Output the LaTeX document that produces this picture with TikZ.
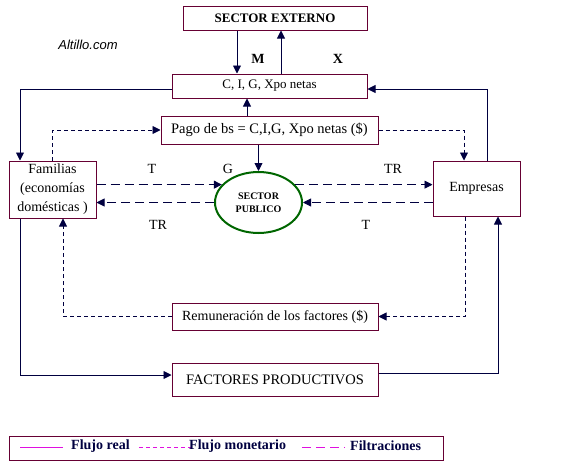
\documentclass[tikz,border=0pt]{standalone}
\usepackage{fontspec}
\setmainfont{Liberation Serif}
\newfontfamily\arialfont{Liberation Sans}
\usetikzlibrary{arrows.meta,shapes.geometric}
\definecolor{boxline}{HTML}{660033}
\definecolor{navy}{HTML}{000040}
\definecolor{spgreen}{HTML}{006600}
\definecolor{legmag}{HTML}{E010E0}
\tikzset{
  sector/.style={draw=boxline,line width=1pt,inner sep=0pt,font=\fontsize{13}{15}\selectfont},
  flow/.style={draw=navy,line width=0.9pt,-{Triangle[length=8pt,width=8pt]}},
  money/.style={flow,dash pattern=on 4pt off 3pt},
  leak/.style={flow,dash pattern=on 9pt off 5pt},
  lbl/.style={inner sep=0pt,font=\fontsize{14}{16}\selectfont},
  legline/.style={draw=legmag,line width=0.9pt}
}
\begin{document}
\begin{tikzpicture}[x=1pt,y=-1pt]
  \useasboundingbox (0,0) rectangle (578,463);
  % cajas
  \node[sector,minimum width=184pt,minimum height=24pt,font=\fontsize{13}{15}\selectfont\bfseries] (ext) at (275,18) {SECTOR EXTERNO};
  \node[sector,minimum width=195pt,minimum height=24pt] (cig) at (269.5,86) {C, I, G, Xpo netas};
  \node[sector,minimum width=217pt,minimum height=28pt,font=\fontsize{14.5}{16}\selectfont] (pago) at (269.5,130) {Pago de bs = C,I,G, Xpo netas (\$)};
  \node[sector,minimum width=87pt,minimum height=57pt,align=center,font=\fontsize{14}{19}\selectfont] (fam) at (52.5,189.5) {Familias\\(economías\\domésticas )};
  \node[sector,minimum width=87pt,minimum height=55pt,font=\fontsize{14}{16}\selectfont] (emp) at (476.5,188.5) {Empresas};
  \node[ellipse,draw=spgreen,line width=2pt,inner sep=0pt,minimum width=87pt,minimum height=61pt,align=center,font=\fontsize{10}{13}\selectfont\bfseries] (sp) at (258.5,202.5) {SECTOR\\PUBLICO};
  \node[sector,minimum width=206pt,minimum height=27pt,font=\fontsize{14}{16}\selectfont] (rem) at (275,316.5) {Remuneración de los factores (\$)};
  \node[sector,minimum width=206pt,minimum height=33pt,font=\fontsize{14.5}{16}\selectfont] (fac) at (275,379.5) {FACTORES PRODUCTIVOS};
  \node[font=\arialfont\itshape\fontsize{13}{15}\selectfont,inner sep=0pt] (alt) at (88,45) {Altillo.com};
  % flujo real
  \draw[flow] ([xshift=-38pt]ext.south) -- ([xshift=-38pt]ext.south |- cig.north);
  \draw[flow] ([xshift=6pt]ext.south |- cig.north) -- ([xshift=6pt]ext.south);
  \draw[flow] ([yshift=-3pt]cig.west) -| ([xshift=-32.5pt]fam.north);
  \draw[flow] ([xshift=10.5pt]emp.north) |- ([yshift=-3pt]cig.east);
  \draw[flow] ([xshift=-22.5pt]pago.north) -- ([xshift=-22.5pt]pago.north |- cig.south);
  \draw[flow] (pago.south -| sp.north) -- (sp.north);
  \draw[flow] ([xshift=-32.5pt]fam.south) |- ([yshift=4.5pt]fac.west);
  \draw[flow] ([yshift=6.5pt]fac.east) -| ([xshift=21.5pt]emp.south);
  % flujo monetario
  \draw[money] (fam.north) |- (pago.west);
  \draw[money] (pago.east) -| ([xshift=-12.5pt]emp.north);
  \draw[money] (rem.west) -| ([xshift=10.5pt]fam.south);
  \draw[money] ([xshift=-11.5pt]emp.south) |- (rem.east);
  % filtraciones
  \draw[leak] (fam.east |- sp.154) -- (sp.154);
  \draw[leak] (sp.west) -- (sp.west -| fam.east);
  \draw[leak] (sp.26) -- (sp.26 -| emp.west);
  \draw[leak] (sp.east -| emp.west) -- (sp.east);
  % etiquetas
  \node[lbl,font=\fontsize{14}{16}\selectfont\bfseries] (m) at (258,59) {M};
  \node[lbl,font=\fontsize{14}{16}\selectfont\bfseries] (x) at (338,59) {X};
  \node[lbl] (tfam) at (152,169) {T};
  \node[lbl] (g) at (228,169) {G};
  \node[lbl] (trfam) at (158,225) {TR};
  \node[lbl] (tremp) at (393,169) {TR};
  \node[lbl] (temp) at (366,225) {T};
  % leyenda
  \draw[boxline,line width=1pt] (9,436) rectangle (443,460);
  \draw[legline] (20,447) -- (63,447);
  \draw[legline,dash pattern=on 4pt off 3pt] (139,447) -- (193,447);
  \draw[legline,dash pattern=on 9pt off 5pt] (302,447) -- (345,447);
  \node[lbl,anchor=west,text=navy,font=\fontsize{14}{16}\selectfont\bfseries] (real) at (71,446) {Flujo real};
  \node[lbl,anchor=west,text=navy,font=\fontsize{14}{16}\selectfont\bfseries] (monet) at (189,446) {Flujo monetario};
  \node[lbl,anchor=west,text=navy,font=\fontsize{14}{16}\selectfont\bfseries] (filt) at (350,446) {Filtraciones};
\end{tikzpicture}
\end{document}
